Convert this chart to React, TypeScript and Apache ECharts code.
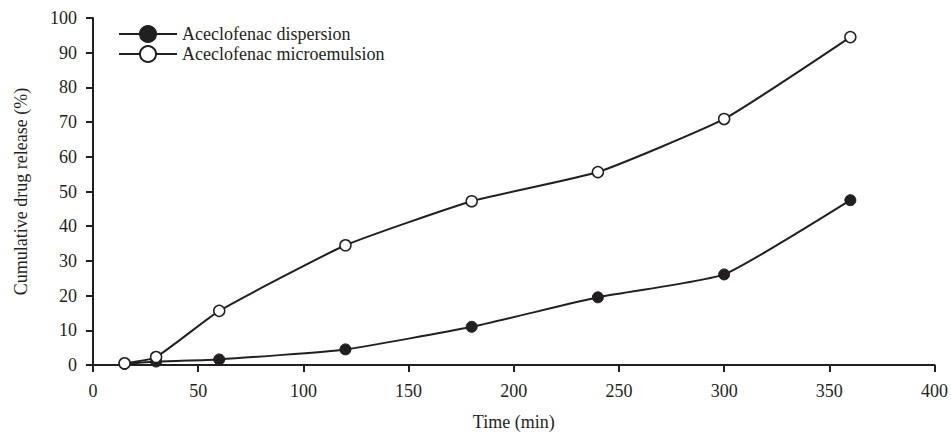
import React, { useEffect, useRef } from "react";
import * as echarts from "echarts";

const times = [15, 30, 60, 120, 180, 240, 300, 360];
const dispersion = [0.3, 1.0, 1.6, 4.5, 11, 19.5, 26.1, 47.5];
const microemulsion = [0.5, 2.3, 15.6, 34.5, 47.2, 55.6, 70.9, 94.5];
const seriesNames = ["Aceclofenac dispersion", "Aceclofenac microemulsion"];

export default function App() {
  const ref = useRef<HTMLDivElement>(null);
  useEffect(() => {
    const chart = echarts.init(ref.current!, null, { renderer: "svg" });
    const font = "'Liberation Serif', 'Times New Roman', serif";
    const ink = "#231f20";
    const axisCommon = {
      axisLine: { lineStyle: { color: ink, width: 2 } },
      axisTick: { show: true, inside: false, length: 7, lineStyle: { color: ink, width: 2 } },
      axisLabel: { color: ink, fontFamily: font, fontSize: 18 },
      splitLine: { show: false },
      nameTextStyle: { color: ink, fontFamily: font, fontSize: 18 },
    };
    chart.setOption({
      animation: false,
      backgroundColor: "#ffffff",
      textStyle: { fontFamily: font },
      grid: { left: 93, right: 16, top: 18, bottom: 72 },
      legend: {
        left: 113,
        top: 20,
        orient: "vertical",
        itemWidth: 58,
        itemHeight: 20,
        itemGap: 2,
        data: seriesNames,
        textStyle: { color: ink, fontFamily: font, fontSize: 18 },
      },
      xAxis: {
        type: "value",
        min: 0,
        max: 400,
        interval: 50,
        name: "Time (min)",
        nameLocation: "middle",
        nameGap: 48,
        ...axisCommon,
        axisLabel: { ...axisCommon.axisLabel, margin: 17 },
      },
      yAxis: {
        type: "value",
        min: 0,
        max: 100,
        interval: 10,
        name: "Cumulative drug release (%)",
        nameLocation: "middle",
        nameGap: 63,
        ...axisCommon,
        axisLabel: { ...axisCommon.axisLabel, margin: 16 },
      },
      series: [
        {
          name: seriesNames[0],
          type: "line",
          smooth: 0.15,
          data: times.map((t, i) => [t, dispersion[i]]),
          symbol: "circle",
          symbolSize: 11,
          itemStyle: { color: ink, borderColor: ink, borderWidth: 1 },
          lineStyle: { color: ink, width: 2 },
          z: 2,
        },
        {
          name: seriesNames[1],
          type: "line",
          smooth: 0.15,
          data: times.map((t, i) => [t, microemulsion[i]]),
          symbol: "circle",
          symbolSize: 11,
          itemStyle: { color: "#ffffff", borderColor: ink, borderWidth: 1.5 },
          lineStyle: { color: ink, width: 2 },
          z: 3,
        },
      ],
    });
    return () => chart.dispose();
  }, []);
  return <div ref={ref} style={{ width: 951, height: 437, position: "absolute", left: 0, top: 0 }} />;
}
